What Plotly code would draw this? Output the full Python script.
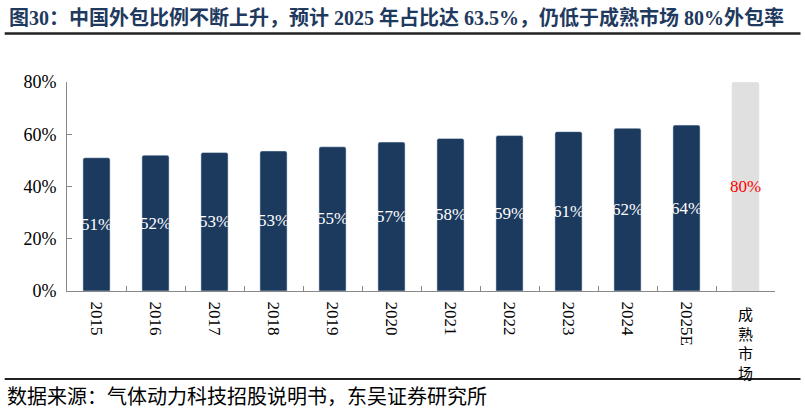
import plotly.graph_objects as go

# data
categories = ["2015", "2016", "2017", "2018", "2019", "2020", "2021", "2022", "2023", "2024", "2025E", "成熟市场"]
shares = [51.0, 52.0, 53.0, 53.6, 55.2, 57.0, 58.4, 59.5, 61.0, 62.3, 63.5, 80.0]
labels = ["51%", "52%", "53%", "53%", "55%", "57%", "58%", "59%", "61%", "62%", "64%", "80%"]
y_ticks = [0, 20, 40, 60, 80]
y_tick_text = ["0%", "20%", "40%", "60%", "80%"]

navy = "#1b3a5e"
bar_colors = [navy] * (len(categories) - 1) + ["#e0e0e0"]
text_colors = ["white"] * (len(categories) - 1) + ["#ff0000"]

serif = "Liberation Serif, Times New Roman, Noto Sans CJK SC"

fig = go.Figure(go.Bar(
    x=categories, y=shares, text=labels,
    textposition="inside", insidetextanchor="middle",
    constraintext="none", textangle=0,
    textfont=dict(family="Liberation Serif", size=17, color=text_colors),
    insidetextfont=dict(family="Liberation Serif", size=17, color=text_colors),
    marker=dict(color=bar_colors, cornerradius=2),
    width=0.46, hoverinfo="skip",
))

fig.update_layout(
    width=805, height=413,
    margin=dict(l=67, r=30, t=82, b=122),
    paper_bgcolor="white", plot_bgcolor="white",
    showlegend=False,
    font=dict(family=serif, color="black"),
)

fig.update_yaxes(
    range=[0, 80], tickvals=y_ticks, ticktext=y_tick_text,
    showgrid=False, zeroline=False,
    showline=True, linecolor="#888888", linewidth=1,
    ticks="inside", ticklen=5, tickcolor="#888888",
    ticklabelstandoff=6,
    tickfont=dict(family=serif, size=18, color="black"),
)

# years rotated, the last category written upright as an annotation
fig.update_xaxes(
    tickvals=categories, ticktext=categories[:-1] + [""],
    tickangle=90, tickson="boundaries", ticklabelstandoff=6,
    showline=True, linecolor="#888888", linewidth=1,
    ticks="inside", ticklen=5, tickcolor="#888888",
    showgrid=False,
    tickfont=dict(family=serif, size=17, color="black"),
)

fig.add_annotation(
    x=categories[-1], xref="x", y=-0.05, yref="paper",
    text="成<br>熟<br>市<br>场", showarrow=False, yanchor="top",
    font=dict(family="Noto Sans CJK SC", size=15, color="black"),
)

# title and source
fig.add_annotation(
    x=-0.085, y=1.31, xref="paper", yref="paper", xanchor="left", yanchor="middle",
    text="<b>图30：中国外包比例不断上升，预计 2025 年占比达 63.5%，仍低于成熟市场 80%外包率</b>",
    showarrow=False, font=dict(family=serif, size=20, color="#1f3a5f"),
)
fig.add_annotation(
    x=-0.088, y=-0.508, xref="paper", yref="paper", xanchor="left", yanchor="middle",
    text="数据来源：气体动力科技招股说明书，东吴证券研究所",
    showarrow=False, font=dict(family=serif, size=20, color="black"),
)

fig.add_shape(type="line", xref="paper", yref="paper", x0=-0.088, x1=1.036, y0=1.232, y1=1.232,
              line=dict(color="#222222", width=2.5))
fig.add_shape(type="line", xref="paper", yref="paper", x0=-0.088, x1=1.036, y0=-0.421, y1=-0.421,
              line=dict(color="#222222", width=2))

fig.write_html("out.html", config={"displayModeBar": False},
               post_script="document.body.style.margin='0';")
